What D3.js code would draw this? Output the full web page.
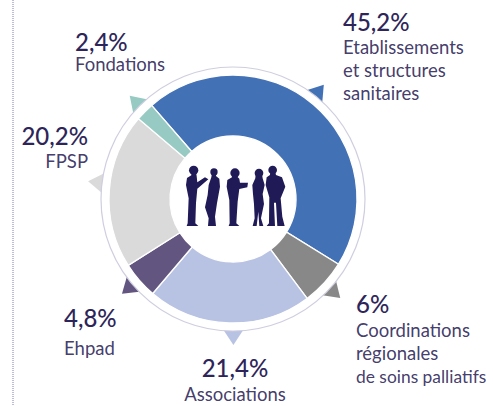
<!DOCTYPE html>
<html><head><meta charset="utf-8">
<script src="https://cdnjs.cloudflare.com/ajax/libs/d3/7.8.5/d3.min.js"></script>
<style>html,body{margin:0;padding:0;background:#fff}svg{display:block}text{font-family:Lato,sans-serif;fill:#2d2559}</style>
</head><body><svg id="c" width="493" height="406"></svg>
<script>
const categories=["Etablissements et structures sanitaires","Coordinations régionales de soins palliatifs","Associations","Ehpad","FPSP","Fondations"];
const values=[45.2,6,21.4,4.8,20.2,2.4];
const valueLabels=["45,2%","6%","21,4%","4,8%","20,2%","2,4%"];
const colors=["#4371b5","#888888","#b8c2e3","#62557f","#dadada","#97cac3"];
const labelLines=[["Etablissements","et structures","sanitaires"],["Coordinations","régionales","de soins palliatifs"],["Associations"],["Ehpad"],["FPSP"],["Fondations"]];

const svg=d3.select("#c");
const cx=233,cy=199,rOut=124,rIn=63,rRing=132,rTip=146,toRad=Math.PI/180;
const pie=d3.pie().sort(null).value(d=>d).startAngle(-41*toRad).endAngle(319*toRad);
const arcs=pie(values);
const g=svg.append("g").attr("transform",`translate(${cx},${cy})`);

svg.append("line").attr("x1",13).attr("x2",13).attr("y1",0).attr("y2",406)
  .attr("stroke","#7f7cab").attr("stroke-width",1).attr("stroke-dasharray","1 1");

const pointerShift=[-1.9,0.2,-2,0.5,3,0.3];
const polar=(r,a)=>[r*Math.sin(a*toRad),-r*Math.cos(a*toRad)];
g.selectAll("path.ptr").data(arcs).join("path").attr("class","ptr")
  .attr("fill",(d,i)=>colors[i])
  .attr("d",(d,i)=>{
    const m=(d.startAngle+d.endAngle)/2/toRad+pointerShift[i];
    return d3.line()([polar(rTip,m),polar(rRing-2,m-4.8),polar(rRing-2,m+4.8)])+"Z";
  });
g.append("circle").attr("r",rRing).attr("fill","#fff").attr("stroke","#cfcee0").attr("stroke-width",1.2);
const arc=d3.arc().innerRadius(rIn).outerRadius(rOut);
g.selectAll("path.sl").data(arcs).join("path").attr("class","sl")
  .attr("d",arc).attr("fill",(d,i)=>colors[i]).attr("stroke","#fff").attr("stroke-width",1.3);

// silhouettes, drawn in a 3x working space
const people=[
 {h:[311,301,14],b:[[304,305],[304,316],[291,324],[288,345],[296,385],[293,460],[290,468],[325,468],[316,460],[318,400],[322,356],[355,328],[345,322],[322,337],[320,318],[318,305]]},
 {h:[372,306,11],b:[[366,310],[364,322],[356,345],[353,375],[345,412],[356,445],[354,468],[378,468],[375,440],[381,400],[390,350],[388,326],[378,318],[378,310]]},
 {h:[435,309,14],b:[[428,312],[426,322],[412,330],[410,350],[418,390],[419,460],[416,468],[448,468],[439,460],[443,395],[448,357],[472,352],[474,338],[450,338],[448,326],[442,320]]},
 {h:[507,309,13],b:[[497,312],[496,325],[487,345],[489,372],[492,402],[494,445],[488,468],[500,468],[505,425],[508,468],[520,468],[513,445],[522,402],[518,372],[524,345],[518,325],[516,312]]},
 {h:[548,300,13],b:[[541,305],[540,315],[530,322],[527,345],[538,382],[537,460],[530,468],[555,468],[552,398],[558,398],[562,468],[584,468],[577,440],[572,385],[586,350],[576,322],[558,315],[556,305]]}
];
const pg=svg.append("g").attr("transform","translate(90,70) scale(0.3333)").attr("fill","#201a57");
people.forEach(p=>{
  pg.append("circle").attr("cx",p.h[0]).attr("cy",p.h[1]).attr("r",p.h[2]);
  pg.append("path").attr("d",d3.line()(p.b)+"Z");
});

const anchors=[
 {x:343,y:31,anchor:"start",ly:[54,77,100]},
 {x:356,y:313,anchor:"start",ly:[337,360,383]},
 {x:235,y:377,anchor:"middle",ly:[401]},
 {x:64,y:327,anchor:"start",ly:[355]},
 {x:88,y:145,anchor:"end",ly:[168]},
 {x:75,y:51,anchor:"start",ly:[71]}
];
anchors.forEach((a,i)=>{
  svg.append("text").attr("x",a.x).attr("y",a.y).attr("text-anchor",a.anchor)
    .attr("font-size",24).attr("font-weight",500).text(valueLabels[i]);
  labelLines[i].forEach((t,j)=>svg.append("text").attr("x",a.x).attr("y",a.ly[j]).attr("text-anchor",a.anchor)
    .attr("font-size",t.length>15?17.4:18.5).attr("fill-opacity",0.9).text(t));
});
</script></body></html>
